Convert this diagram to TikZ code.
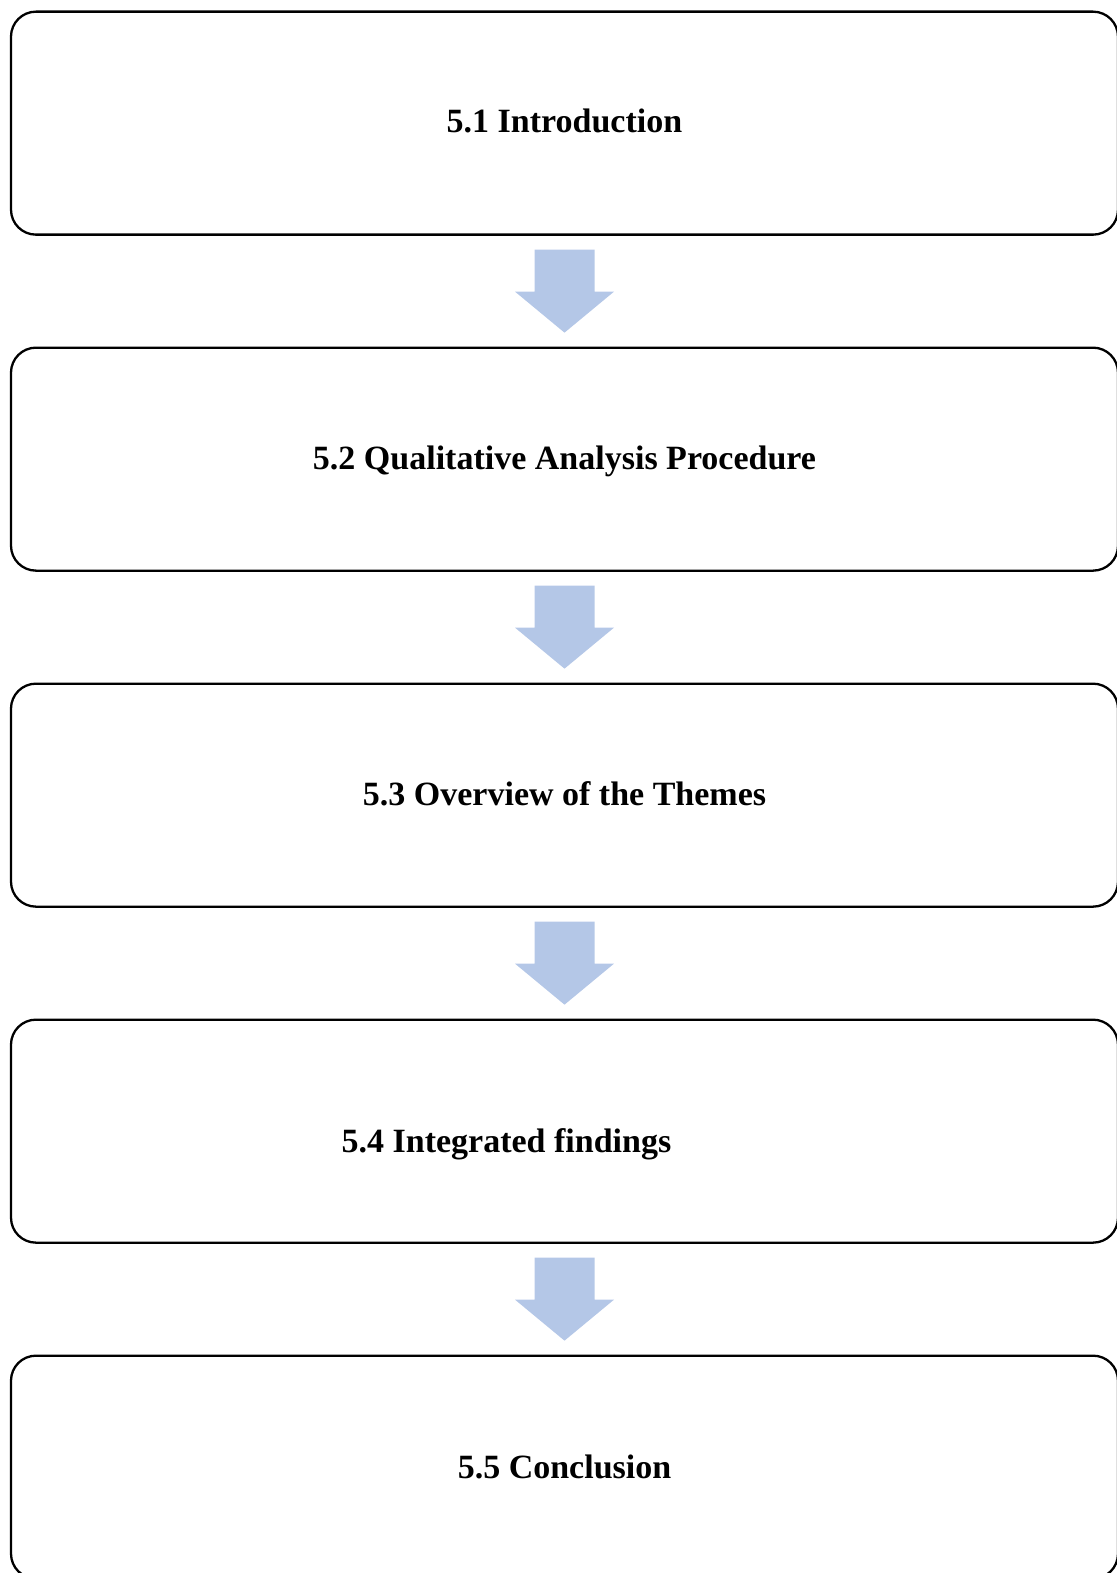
\documentclass[tikz,border=0pt]{standalone}
\usepackage{fontspec}
\setmainfont{Liberation Serif}
\usetikzlibrary{calc}
\definecolor{arrowblue}{HTML}{B4C7E7}
\tikzset{
  stagebox/.style={draw=black, line width=1.15pt, rounded corners=12.5pt,
    minimum width=553.5pt, minimum height=111.5pt, inner sep=0pt, anchor=north},
  stagetext/.style={font=\bfseries\fontsize{17}{20}\selectfont, inner sep=0pt},
  downarrow/.pic={\fill[arrowblue] (-30,-41.5) -- (30,-41.5) -- (30,0.5) -- (49.5,0.5)
      -- (0,41.5) -- (-49.5,0.5) -- (-30,0.5) -- cycle;}
}
\begin{document}
\begin{tikzpicture}[x=0.5pt,y=-0.5pt]
  \useasboundingbox (0,0) rectangle (1117,1573);
  \begin{scope}
    \clip (0,0) rectangle (1117,1573);
    % stage boxes
    \node[stagebox] (b1) at (564.5,10.5) {};
    \node[stagebox] (b2) at (564.5,346.5) {};
    \node[stagebox] (b3) at (564.5,682.5) {};
    \node[stagebox] (b4) at (564.5,1018.5) {};
    \node[stagebox] (b5) at (564.5,1354.5) {};
    % stage titles
    \node[stagetext] (t1) at ($(b1.center)+(0,-2)$) {5.1 Introduction};
    \node[stagetext] (t2) at ($(b2.center)+(0,2)$) {5.2 Qualitative Analysis Procedure};
    \node[stagetext] (t3) at ($(b3.center)+(0,-1)$) {5.3 Overview of the Themes};
    \node[stagetext] (t4) at ($(b4.center)+(-58,13)$) {5.4 Integrated findings};
    \node[stagetext] (t5) at (b5.center) {5.5 Conclusion};
    % block arrows between the stages
    \pic at ($(b1.south)!0.5!(b2.north)$) {downarrow};
    \pic at ($(b2.south)!0.5!(b3.north)$) {downarrow};
    \pic at ($(b3.south)!0.5!(b4.north)$) {downarrow};
    \pic at ($(b4.south)!0.5!(b5.north)$) {downarrow};
  \end{scope}
\end{tikzpicture}
\end{document}
